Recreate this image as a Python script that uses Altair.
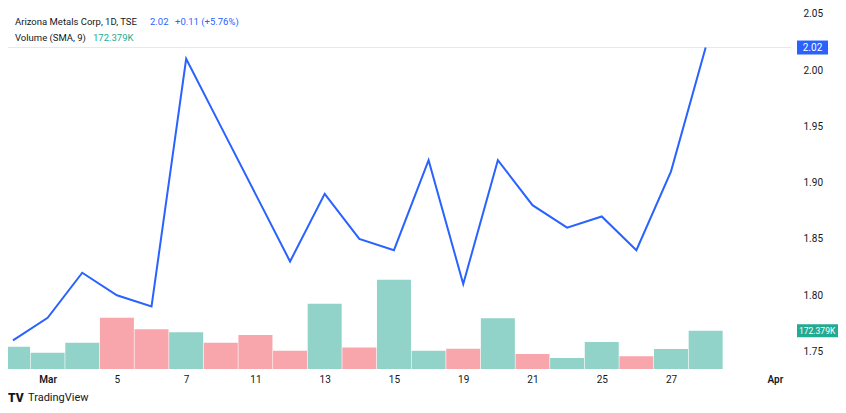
import altair as alt
import pandas as pd

# ---- data ----
dates = ["Feb 29", "Mar 1", "Mar 4", "Mar 5", "Mar 6", "Mar 7", "Mar 8", "Mar 11",
         "Mar 12", "Mar 13", "Mar 14", "Mar 15", "Mar 18", "Mar 19", "Mar 20",
         "Mar 21", "Mar 22", "Mar 25", "Mar 26", "Mar 27", "Mar 28"]
close = [1.76, 1.78, 1.82, 1.80, 1.79, 2.01, 1.95, 1.89, 1.83, 1.89, 1.85, 1.84,
         1.92, 1.81, 1.92, 1.88, 1.86, 1.87, 1.84, 1.91, 2.02]
volume_k = [100, 73, 118, 231, 179, 165, 118, 153, 82, 294, 97, 402,
            82, 91, 228, 68, 50, 122, 57, 90, 172.379]
direction = ["up", "up", "up", "down", "down", "up", "down", "down", "down", "up",
             "down", "up", "up", "down", "up", "down", "up", "up", "down", "up", "up"]
tick_index = [1, 3, 5, 7, 9, 11, 13, 15, 17, 19, 22]
tick_text = ["Mar", "5", "7", "11", "13", "15", "19", "21", "25", "27", "Apr"]
month_ticks = [1, 22]
price_ticks = [1.75, 1.80, 1.85, 1.90, 1.95, 2.00, 2.05]
title_line = ["Arizona Metals Corp, 1D, TSE", "2.02", "+0.11 (+5.76%)"]
volume_line = ["Volume (SMA, 9)", "172.379K"]

df = pd.DataFrame({
    "i": list(range(len(dates))),
    "date": dates,
    "close": close,
    "volume": volume_k,
    "dir": direction,
})

FONT = "Roboto"
W, H = 783, 361
BLUE = "#2962ff"
GREEN_BAR = "#92d3c9"
RED_BAR = "#f8a5ab"
GREEN_TXT = "#22ab94"
DARK = "#131722"

label_expr = " : ".join(f"datum.value == {i} ? '{t}'" for i, t in zip(tick_index, tick_text)) + " : ''"
month_test = " || ".join(f"datum.value == {m}" for m in month_ticks)

x_axis = alt.Axis(values=tick_index, labelExpr=label_expr, grid=False, ticks=False,
                  tickSize=0, domain=False, labelPadding=5, labelFontSize=10,
                  labelColor=DARK, labelFont=FONT, title=None,
                  labelFontWeight={"condition": {"test": month_test, "value": 600},
                                   "value": "normal"})
x_enc = alt.X("i:Q", scale=alt.Scale(domain=[0, 22.32], nice=False, zero=False), axis=x_axis)

price_scale = alt.Scale(domain=[1.7345, 2.0551], nice=False, zero=False)
vol_scale = alt.Scale(domain=[0, 1624.5], nice=False)

base = alt.Chart(df)

# volume layer
bars = base.mark_bar(width=34, clip=True).encode(
    x=x_enc,
    y=alt.Y("volume:Q", scale=vol_scale, axis=None),
    color=alt.Color("dir:N", scale=alt.Scale(domain=["up", "down"], range=[GREEN_BAR, RED_BAR]),
                    legend=None),
)
last = df.tail(1)
vol_box = alt.Chart(last).mark_rect(color="#22ab94", clip=False).encode(
    x=alt.value(789), x2=alt.value(830),
    y=alt.Y("v1:Q", scale=vol_scale, axis=None), y2="v2:Q",
).transform_calculate(v1="datum.volume + 29", v2="datum.volume - 29")
vol_box_text = alt.Chart(last).mark_text(color="white", align="left", baseline="middle",
                                         fontSize=8.5, font=FONT).encode(
    x=alt.value(791),
    y=alt.Y("volume:Q", scale=vol_scale, axis=None),
    text=alt.value(volume_line[1]),
)
vol_layer = alt.layer(bars, vol_box, vol_box_text)

# price layer
price_axis = alt.Axis(orient="right", values=price_ticks, format=".2f", grid=False,
                      ticks=False, tickSize=0, domain=False, labelPadding=12,
                      labelFontSize=10, labelColor=DARK, labelFont=FONT, title=None,
                      labelAlign="left")
price_rule = alt.Chart(last).mark_rule(color="#e6e8ec", strokeWidth=1).encode(
    y=alt.Y("close:Q", scale=price_scale, axis=price_axis)
)
line = base.mark_line(color=BLUE, strokeWidth=2, clip=True).encode(
    x=x_enc,
    y=alt.Y("close:Q", scale=price_scale, axis=price_axis),
)
price_box = alt.Chart(last).mark_rect(color=BLUE).encode(
    x=alt.value(789), x2=alt.value(820),
    y=alt.Y("p1:Q", scale=price_scale, axis=price_axis), y2="p2:Q",
).transform_calculate(p1="datum.close + 0.0062", p2="datum.close - 0.0062")
price_box_text = alt.Chart(last).mark_text(color="white", align="center", baseline="middle",
                                           fontSize=10, font=FONT).encode(
    x=alt.value(804.5),
    y=alt.Y("close:Q", scale=price_scale, axis=price_axis),
    text=alt.Text("close:Q", format=".2f"),
)
price_layer = alt.layer(price_rule, line, price_box, price_box_text)

# header texts
def txt(s, x, y, color, size=9.5, weight="normal"):
    return alt.Chart(pd.DataFrame({"t": [s]})).mark_text(
        align="left", baseline="middle", color=color, fontSize=size, font=FONT,
        fontWeight=weight).encode(x=alt.value(x), y=alt.value(y), text="t:N")

header = alt.layer(
    txt(title_line[0], 7, 14, DARK),
    txt(title_line[1], 142, 14, BLUE),
    txt(title_line[2], 167, 14, BLUE),
    txt(volume_line[0], 7, 30, DARK),
    txt(volume_line[1], 85, 30, GREEN_TXT),
    txt("TV", 0, 390, DARK, size=12, weight=900),
    txt("TradingView", 20, 390, DARK, size=11),
)

chart = alt.layer(vol_layer, price_layer, header).resolve_scale(y="independent").properties(
    width=W, height=H,
    padding={"left": 0, "top": 0, "right": 47, "bottom": 36},
    autosize=alt.AutoSizeParams(type="none"),
    background="white",
).configure_view(stroke=None)

chart.save("out.html", embed_options={"renderer": "svg", "actions": False})
